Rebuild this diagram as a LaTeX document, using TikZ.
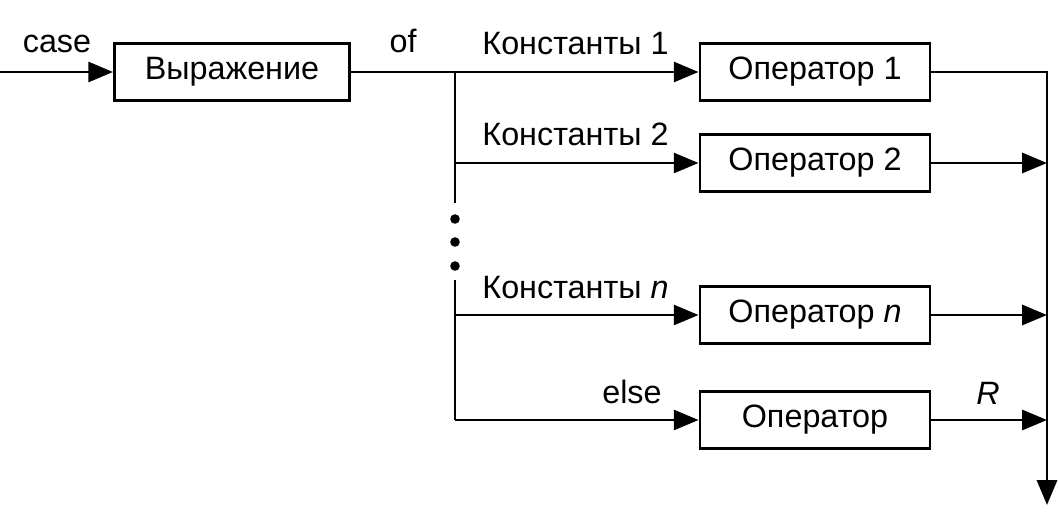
\documentclass[tikz,border=0pt]{standalone}
\usepackage{fontspec}
\setmainfont{Liberation Sans}
\usetikzlibrary{arrows.meta,positioning}
\tikzset{
 blk/.style={draw, line width=2pt, minimum width=5.75cm, minimum height=1.42cm, inner sep=0pt},
 lbl/.style={inner sep=0pt},
 arr/.style={-{Triangle[length=0.62cm,width=0.5cm]}},
 dot/.style={circle, fill, inner sep=0pt, minimum size=0.24cm},
}
\begin{document}
\begin{tikzpicture}[x=0.025cm,y=-0.025cm,line width=2pt,font=\fontsize{23}{27}\selectfont]
\useasboundingbox (0,0) rectangle (1060,512);
% nodes
\node[blk, minimum width=5.875cm] (expr) at (232,72) {Выражение};
\node[blk] (op1) at (815,72) {Оператор 1};
\node[blk] (op2) at (815,163) {Оператор 2};
\node[blk] (opn) at (815,315) {Оператор \textit{n}};
\node[blk] (ope) at (815,420) {Оператор};
\foreach \i/\y in {1/219,2/242,3/266}
  \node[dot] (d\i) at (455,\y) {};
% labels
\node[lbl, anchor=base] (case) at (57,53) {case};
\node[lbl, anchor=base] (of) at (403,53) {of};
\node[lbl, anchor=base west] (k1) at (481,55) {Константы 1};
\node[lbl, anchor=base west] (k2) at (481,146) {Константы 2};
\node[lbl, anchor=base west] (kn) at (481,298) {Константы \textit{n}};
\node[lbl, anchor=base east] (kelse) at (663,403) {else};
\node[lbl, anchor=base] (r) at (988,404) {\textit{R}};
% points
\coordinate (in) at (0,72);
\coordinate (j1) at (455,72);
\coordinate (g1) at (455,203);
\coordinate (g2) at (455,280);
\coordinate (je) at (455,420);
\coordinate (r1) at (1047,72);
\coordinate (rend) at (1047,505);
% edges
\draw[arr] (in) -- (expr.west);
\draw (expr.east) -- (j1);
\draw[arr] (j1) -- (op1.west);
\draw (j1) -- (g1);
\draw (g2) -- (je);
\draw[arr] (j1 |- op2) -- (op2.west);
\draw[arr] (j1 |- opn) -- (opn.west);
\draw[arr] (je) -- (ope.west);
\draw[arr] (op1.east) -- (r1) -- (rend);
\draw[arr] (op2.east) -- (op2 -| r1);
\draw[arr] (opn.east) -- (opn -| r1);
\draw[arr] (ope.east) -- (ope -| r1);
\end{tikzpicture}
\end{document}
